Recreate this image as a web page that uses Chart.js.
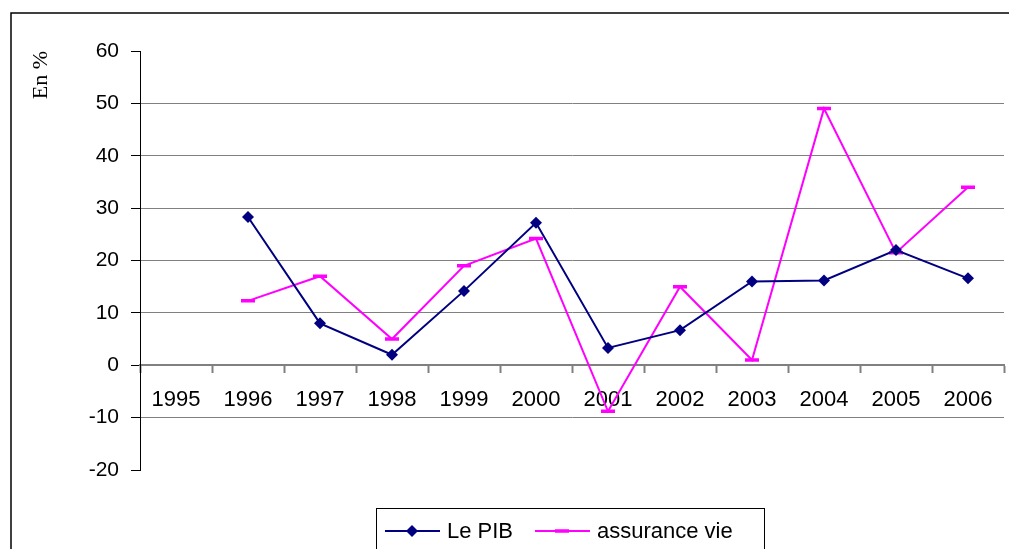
<!DOCTYPE html>
<html>
<head>
<meta charset="utf-8">
<script src="https://cdn.jsdelivr.net/npm/chart.js@4"></script>
<style>
  body { margin: 0; background: #fff; }
  #wrap { width: 1009px; height: 549px; }
</style>
</head>
<body>
<div id="wrap"><canvas id="pib"></canvas></div>
<script>
var years = ["1995", "1996", "1997", "1998", "1999", "2000", "2001", "2002", "2003", "2004", "2005", "2006"];
var pibValues = [null, 28.3, 8, 2, 14.2, 27.2, 3.3, 6.7, 16, 16.2, 22, 16.6];
var assuranceValues = [null, 12.3, 17, 5, 19, 24.2, -8.8, 15, 1, 49, 21.5, 34];
var seriesNames = ["Le PIB", "assurance vie"];

var pibColor = "#000080";
var assurColor = "#FF00FF";

// cadre + legende encadree, comme dans excel
var frame = {
  id: "frame",
  beforeDraw: function(chart) {
    var ctx = chart.ctx;
    ctx.save();
    ctx.strokeStyle = "#000";
    ctx.lineWidth = 1.5;
    ctx.strokeRect(11, 13, 1200, 1100);
    ctx.restore();
  },
  afterDraw: function(chart) {
    var ctx = chart.ctx;
    ctx.save();
    ctx.fillStyle = "#fff";
    ctx.fillRect(376, 508, 388, 60);
    ctx.strokeStyle = "#000";
    ctx.lineWidth = 1;
    ctx.strokeRect(376.5, 508.5, 388, 60);

    var y = 531;
    ctx.lineWidth = 2;
    ctx.strokeStyle = pibColor;
    ctx.beginPath(); ctx.moveTo(385, y); ctx.lineTo(440, y); ctx.stroke();
    ctx.fillStyle = pibColor;
    ctx.beginPath();
    ctx.moveTo(412, y - 6); ctx.lineTo(418, y); ctx.lineTo(412, y + 6); ctx.lineTo(406, y);
    ctx.closePath(); ctx.fill();

    ctx.strokeStyle = assurColor;
    ctx.beginPath(); ctx.moveTo(535, y); ctx.lineTo(590, y); ctx.stroke();
    ctx.lineWidth = 3.5;
    ctx.beginPath(); ctx.moveTo(555, y); ctx.lineTo(569, y); ctx.stroke();

    ctx.fillStyle = "#000";
    ctx.font = "22px 'Liberation Sans', Arial, sans-serif";
    ctx.textBaseline = "middle";
    ctx.fillText(seriesNames[0], 447, y + 1);
    ctx.fillText(seriesNames[1], 597, y + 1);
    ctx.restore();
  }
};

new Chart("pib", {
  type: "line",
  data: {
    labels: years,
    datasets: [{
      label: seriesNames[0],
      data: pibValues,
      borderColor: pibColor,
      backgroundColor: pibColor,
      borderWidth: 2,
      pointStyle: "rectRot",
      pointRadius: 6,
      pointBorderWidth: 0,
      tension: 0
    }, {
      label: seriesNames[1],
      data: assuranceValues,
      borderColor: assurColor,
      backgroundColor: assurColor,
      borderWidth: 2,
      pointStyle: "line",
      pointRadius: 7,
      pointBorderWidth: 3.5,
      tension: 0
    }]
  },
  options: {
    responsive: true,
    maintainAspectRatio: false,
    animation: false,
    layout: { autoPadding: false, padding: { top: 51, bottom: 79, right: 5, left: 0 } },
    plugins: {
      legend: { display: false },
      tooltip: { enabled: false }
    },
    scales: {
      x: {
        position: { y: 0 },
        offset: true,
        afterFit: function(scale) { scale.paddingLeft = 0; scale.paddingRight = 0; },
        grid: {
          offset: true,
          drawOnChartArea: false,
          drawTicks: true,
          tickLength: 7,
          tickColor: "#808080",
          tickWidth: 2
        },
        border: { color: "#808080", width: 2 },
        ticks: {
          color: "#000",
          padding: 14,
          maxRotation: 0,
          autoSkip: false,
          font: { family: "'Liberation Sans', Arial, sans-serif", size: 22 }
        }
      },
      y: {
        min: -20,
        max: 60,
        afterFit: function(scale) { scale.width = 140; },
        ticks: {
          stepSize: 10,
          color: "#000",
          padding: 12,
          font: { family: "'Liberation Sans', Arial, sans-serif", size: 21 }
        },
        grid: {
          color: function(c) {
            var v = c.tick ? c.tick.value : 0;
            return (v === 60 || v === -20) ? "rgba(0,0,0,0)" : "#808080";
          },
          lineWidth: 1,
          tickLength: 9,
          tickColor: "#000"
        },
        border: { color: "#000", width: 1 },
        title: {
          display: true,
          text: "En %",
          align: "end",
          color: "#000",
          padding: { top: 28, bottom: 0 },
          font: { family: "'Liberation Serif', 'Times New Roman', serif", size: 22 }
        }
      }
    }
  },
  plugins: [frame]
});
</script>
</body>
</html>
